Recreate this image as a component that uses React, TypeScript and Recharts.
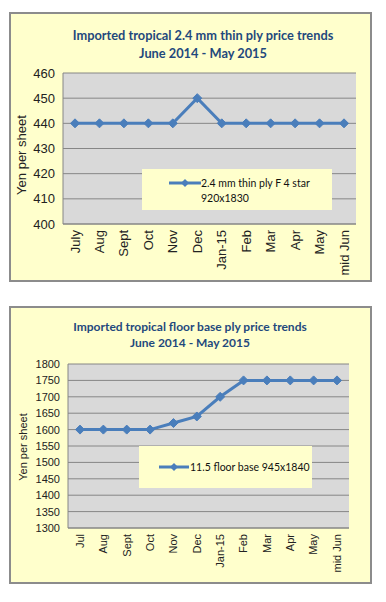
import React from 'react';
import { LineChart, Line, XAxis, YAxis, CartesianGrid, Legend } from 'recharts';

const thinPlyMonths = ['July', 'Aug', 'Sept', 'Oct', 'Nov', 'Dec', 'Jan-15', 'Feb', 'Mar', 'Apr', 'May', 'mid Jun'];
const thinPlyPrices = [440, 440, 440, 440, 440, 450, 440, 440, 440, 440, 440, 440];
const thinPlyTicks = [400, 410, 420, 430, 440, 450, 460];

const floorMonths = ['Jul', 'Aug', 'Sept', 'Oct', 'Nov', 'Dec', 'Jan-15', 'Feb', 'Mar', 'Apr', 'May', 'mid Jun'];
const floorPrices = [1600, 1600, 1600, 1600, 1620, 1640, 1700, 1750, 1750, 1750, 1750, 1750];
const floorTicks = [1300, 1350, 1400, 1450, 1500, 1550, 1600, 1650, 1700, 1750, 1800];

const thinData = thinPlyMonths.map((m, i) => ({ month: m, price: thinPlyPrices[i] }));
const floorData = floorMonths.map((m, i) => ({ month: m, price: floorPrices[i] }));

const BLUE = '#4A7EBB';
const YELLOW = '#FFFFCC';
const PLOT = '#D9D9D9';
const GRID = '#868686';
const TITLE = '#1F497D';
const TICKFONT = '"Liberation Sans", Arial, sans-serif';
const TITLEFONT = 'Lato, "Open Sans", sans-serif';

const Diamond = (props: any) => {
  const { cx, cy } = props;
  if (cx == null || cy == null) return null;
  const r = 4.5;
  return <path d={`M${cx},${cy - r}L${cx + r},${cy}L${cx},${cy + r}L${cx - r},${cy}Z`} fill={BLUE} stroke={BLUE} />;
};

const makeXTick = (fontSize: number) => (props: any) => {
  const { x, y, payload } = props;
  return (
    <text
      x={x}
      y={y - 2}
      transform={`rotate(-90, ${x}, ${y - 2})`}
      textAnchor="end"
      dy="0.35em"
      fontSize={fontSize}
      fontFamily={TICKFONT}
      fill="#222"
    >
      {payload.value}
    </text>
  );
};

type ChartProps = {
  top: number;
  height: number;
  box: { left: number; top: number; width: number; height: number };
  titleLines: string[];
  titleTop: number;
  titleSize: number;
  titleLineHeight: number;
  titleCenter: number;
  data: any[];
  ticks: number[];
  domain: [number, number];
  margin: { top: number; right: number; bottom: number; left: number };
  tickSize: number;
  yLabel: { x: number; y: number; size: number };
  legend: { left: number; top: number; width: number; height: number; iconX: number; iconY: number; iconW: number; textX: number; lines: string[]; size: number; lineGap: number };
  name: string;
};

const PriceChart = (p: ChartProps) => {
  const XTick = makeXTick(p.tickSize);
  return (
    <div style={{ position: 'absolute', left: 0, top: p.top, width: 386, height: p.height }}>
      <div
        style={{
          position: 'absolute',
          left: p.box.left,
          top: p.box.top,
          width: p.box.width,
          height: p.box.height,
          background: YELLOW,
          border: '2px solid #8C8C8C',
          boxSizing: 'border-box',
        }}
      />
      <div
        style={{
          position: 'absolute',
          left: p.titleCenter - 190,
          width: 380,
          top: p.titleTop,
          textAlign: 'center',
          color: TITLE,
          fontFamily: TITLEFONT,
          fontWeight: 700,
          fontSize: p.titleSize,
          lineHeight: `${p.titleLineHeight}px`,
          whiteSpace: 'nowrap',
        }}
      >
        {p.titleLines.map((t) => (
          <div key={t}>{t}</div>
        ))}
      </div>
      <div
        style={{
          position: 'absolute',
          left: p.yLabel.x - 60,
          top: p.yLabel.y - 8,
          width: 120,
          height: 16,
          lineHeight: '16px',
          textAlign: 'center',
          transform: 'rotate(-90deg)',
          fontFamily: TICKFONT,
          fontSize: p.yLabel.size,
          color: '#222',
          whiteSpace: 'nowrap',
        }}
      >
        Yen per sheet
      </div>
      <div style={{ position: 'absolute', left: 0, top: 0 }}>
        <LineChart width={386} height={p.height} data={p.data} margin={p.margin}>
          <CartesianGrid vertical={false} stroke={GRID} fill={PLOT} fillOpacity={1} strokeWidth={1} />
          <XAxis
            dataKey="month"
            interval={0}
            tickLine={false}
            axisLine={{ stroke: GRID }}
            height={60}
            padding={{ left: 12, right: 12 }}
            tick={<XTick />}
          />
          <YAxis
            type="number"
            domain={p.domain}
            ticks={p.ticks}
            interval={0}
            tickLine={false}
            axisLine={{ stroke: GRID }}
            width={50}
            tick={{ fontSize: p.tickSize, fontFamily: TICKFONT, fill: '#222' }}
          />
          <Legend
            layout="horizontal"
            verticalAlign="middle"
            align="center"
            wrapperStyle={{
              position: 'absolute',
              left: p.legend.left,
              top: p.legend.top,
              width: p.legend.width,
              height: p.legend.height,
              margin: 0,
            }}
            content={() => (
              <div
                style={{
                  width: p.legend.width,
                  height: p.legend.height,
                  background: YELLOW,
                  position: 'relative',
                  fontFamily: TITLEFONT,
                  fontSize: p.legend.size,
                  color: '#111',
                }}
              >
                <svg
                  width={p.legend.iconW}
                  height={10}
                  style={{ position: 'absolute', left: p.legend.iconX, top: p.legend.iconY - 5 }}
                >
                  <line x1={0} y1={5} x2={p.legend.iconW} y2={5} stroke={BLUE} strokeWidth={3} />
                  <path
                    d={`M${p.legend.iconW / 2},1L${p.legend.iconW / 2 + 4},5L${p.legend.iconW / 2},9L${p.legend.iconW / 2 - 4},5Z`}
                    fill={BLUE}
                  />
                </svg>
                <div
                  style={{
                    position: 'absolute',
                    left: p.legend.textX,
                    top: p.legend.iconY - p.legend.lineGap / 2,
                    lineHeight: `${p.legend.lineGap}px`,
                    whiteSpace: 'nowrap',
                  }}
                >
                  {p.legend.lines.map((l) => (
                    <div key={l}>{l}</div>
                  ))}
                </div>
              </div>
            )}
          />
          <Line
            type="linear"
            dataKey="price"
            name={p.name}
            stroke={BLUE}
            strokeWidth={3}
            dot={<Diamond />}
            activeDot={false}
            isAnimationActive={false}
          />
        </LineChart>
      </div>
    </div>
  );
};

export default function App() {
  return (
    <div style={{ position: 'absolute', left: 0, top: 0, width: 386, height: 602, background: '#fff' }}>
      <PriceChart
        top={0}
        height={300}
        box={{ left: 9, top: 12, width: 363, height: 270 }}
        titleLines={['Imported tropical 2.4 mm thin ply price trends', 'June 2014 - May 2015']}
        titleTop={26}
        titleSize={12.8}
        titleLineHeight={18}
        titleCenter={203}
        data={thinData}
        ticks={thinPlyTicks}
        domain={[400, 460]}
        margin={{ top: 73, right: 30, bottom: 16, left: 13 }}
        tickSize={13}
        yLabel={{ x: 22, y: 155, size: 13 }}
        legend={{
          left: 142,
          top: 169,
          width: 190,
          height: 41,
          iconX: 27,
          iconY: 14,
          iconW: 32,
          textX: 59,
          lines: ['2.4 mm thin ply F 4 star', '920x1830'],
          size: 10.5,
          lineGap: 15,
        }}
        name="2.4 mm thin ply F 4 star 920x1830"
      />
      <PriceChart
        top={300}
        height={302}
        box={{ left: 9, top: 6, width: 363, height: 278 }}
        titleLines={['Imported tropical floor base ply price trends', 'June 2014 - May 2015']}
        titleTop={19}
        titleSize={12}
        titleLineHeight={16}
        titleCenter={190}
        data={floorData}
        ticks={floorTicks}
        domain={[1300, 1800]}
        margin={{ top: 64, right: 37, bottom: 14, left: 18 }}
        tickSize={11}
        yLabel={{ x: 23, y: 147, size: 11 }}
        legend={{
          left: 139,
          top: 146,
          width: 173,
          height: 42,
          iconX: 20,
          iconY: 21,
          iconW: 30,
          textX: 51,
          lines: ['11.5 floor base 945x1840'],
          size: 10.5,
          lineGap: 15,
        }}
        name="11.5 floor base 945x1840"
      />
    </div>
  );
}
